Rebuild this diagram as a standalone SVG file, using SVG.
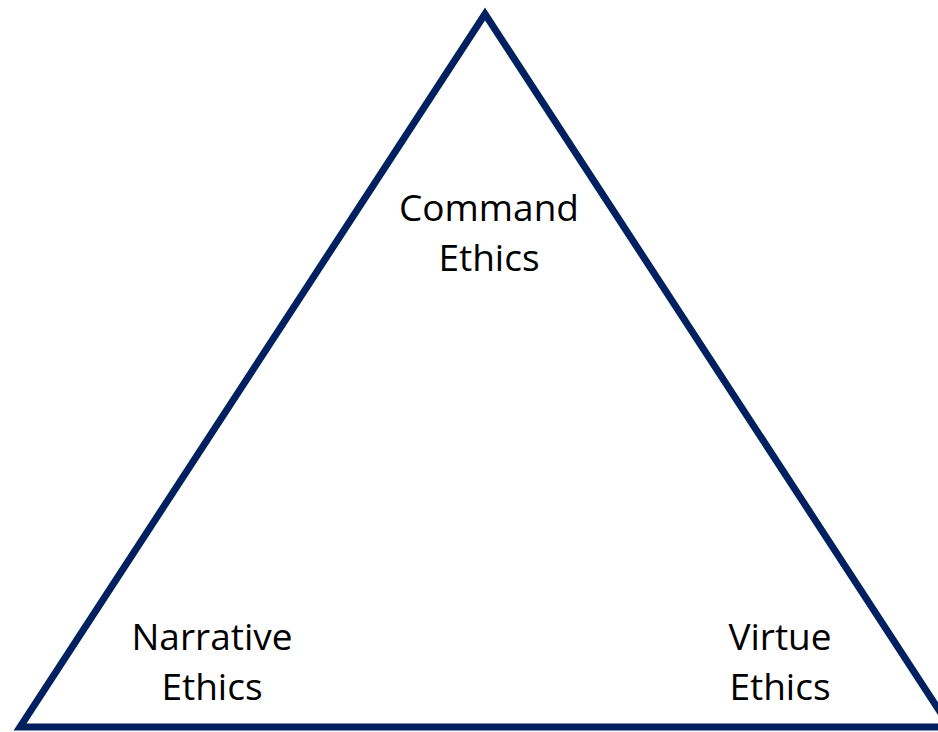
<svg xmlns="http://www.w3.org/2000/svg" width="938" height="732" viewBox="0 0 938 732">
  <style>
    .edge { fill: none; stroke: #002060; stroke-width: 7; stroke-linejoin: miter; }
    .label { font-family: "Open Sans", "Liberation Sans", sans-serif; font-size: 37px; fill: #000000; text-anchor: middle; }
  </style>
  <rect width="938" height="732" fill="#ffffff"/>
  <g id="connectors">
    <polygon class="edge" points="485,14 20,727 950,727"/>
  </g>
  <g id="command-ethics">
    <text class="label" x="489" y="221">Command</text>
    <text class="label" x="489" y="271">Ethics</text>
  </g>
  <g id="narrative-ethics">
    <text class="label" x="212" y="650">Narrative</text>
    <text class="label" x="212" y="700">Ethics</text>
  </g>
  <g id="virtue-ethics">
    <text class="label" x="780" y="650">Virtue</text>
    <text class="label" x="780" y="700">Ethics</text>
  </g>
</svg>
